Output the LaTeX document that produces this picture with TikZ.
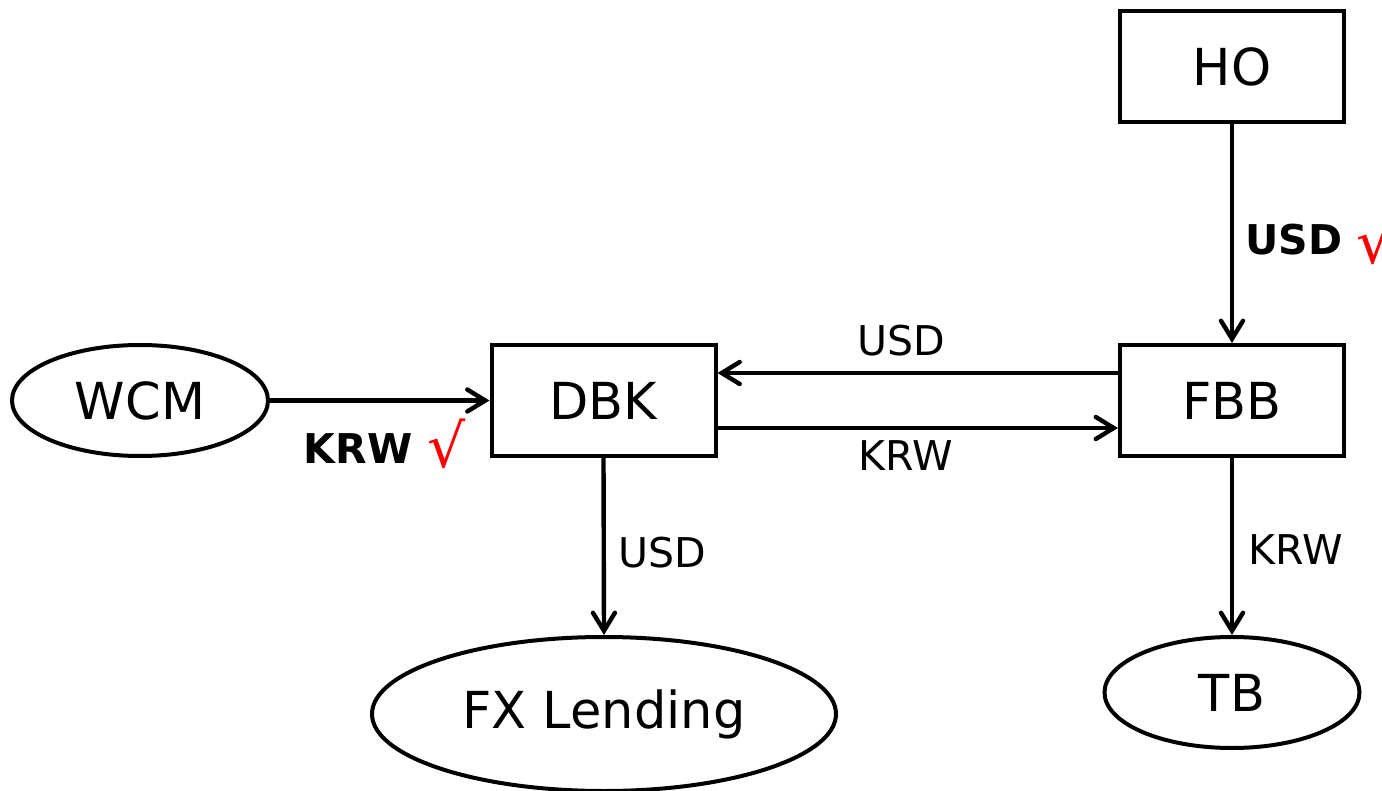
\documentclass[tikz,border=0pt]{standalone}
\usepackage{fontspec}
\setmainfont{DejaVu Sans}
\usetikzlibrary{shapes.geometric,arrows.meta}
\tikzset{
  box/.style={draw,line width=2pt,rectangle,minimum width=112pt,minimum height=55.5pt,inner sep=0pt,font=\fontsize{25.5}{28}\selectfont},
  oval/.style={draw,line width=2pt,ellipse,inner sep=0pt,font=\fontsize{25.5}{28}\selectfont},
  arr/.style={line width=2.2pt,-{Straight Barb[length=9pt,width=11pt,line width=2.2pt,line cap=round]}},
  lbl/.style={font=\fontsize{20.5}{22}\selectfont,inner sep=0pt},
  blbl/.style={font=\fontsize{20.5}{22}\selectfont\bfseries,inner sep=0pt},
  tick/.style={text=red,font=\fontsize{30}{32}\selectfont,inner sep=0pt}
}
\begin{document}
\begin{tikzpicture}[x=0.5pt,y=-0.5pt]
\useasboundingbox (0,0) rectangle (1382,791);
\node[box] (HO) at (1232,66.5) {HO};
\node[box] (FBB) at (1232,400.5) {FBB};
\node[box] (DBK) at (603.5,400.5) {DBK};
\node[oval,minimum width=128pt,minimum height=55.5pt] (WCM) at (140,400.5) {WCM};
\node[oval,minimum width=232pt,minimum height=77pt] (FX) at (604,714) {FX Lending};
\node[oval,minimum width=127.5pt,minimum height=55.5pt] (TB) at (1232,692.5) {TB};

\draw[arr] (HO.south) -- (FBB.north);
\draw[arr] (FBB.west |- 0,373) -- (DBK.east |- 0,373);
\draw[arr] (DBK.east |- 0,428) -- (FBB.west |- 0,428);
\draw[arr] (WCM.east) -- (DBK.west);
\draw[arr] (DBK.south) -- (FX.north);
\draw[arr] (FBB.south) -- (TB.north);

\node[blbl] (l1) at (1294,240) {USD};
\node[tick] (t1) at (1376,240) {√};
\node[lbl] (l2) at (901,341) {USD};
\node[lbl] (l3) at (906,456) {KRW};
\node[blbl] (l4) at (358,449) {KRW};
\node[tick] (t2) at (447,444) {√};
\node[lbl] (l5) at (662,553) {USD};
\node[lbl] (l6) at (1296,550) {KRW};
\end{tikzpicture}
\end{document}
